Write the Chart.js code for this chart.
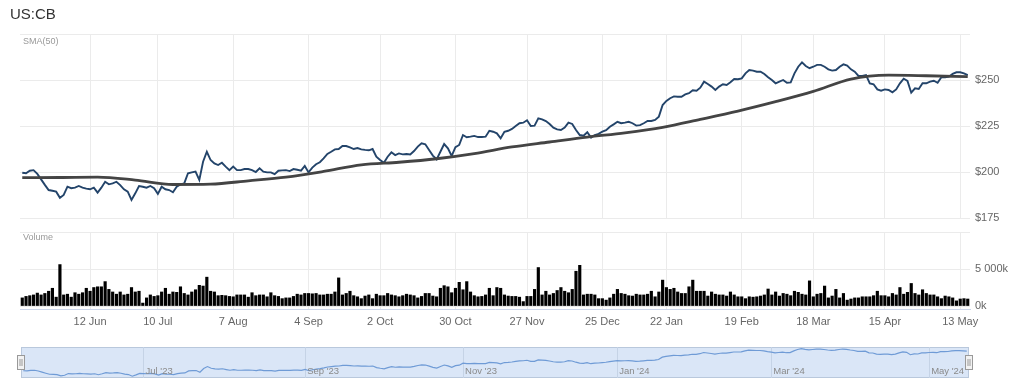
<!DOCTYPE html>
<html>
<head>
<meta charset="utf-8">
<script src="https://cdn.jsdelivr.net/npm/chart.js@4"></script>
<style>
  html, body { margin: 0; padding: 0; background: #fff; }
  #wrap { position: relative; width: 1024px; height: 385px; overflow: hidden; font-family: "Liberation Sans", Arial, sans-serif; }
  #wrap canvas { position: absolute; left: 0; top: 0; }
  #title { position: absolute; left: 10px; top: 5px; font-size: 15px; color: #333; }
  .pane { position: absolute; left: 23px; font-size: 9px; color: #999; }
</style>
</head>
<body>
<div id="wrap">
  <canvas id="price" width="1024" height="385"></canvas>
  <canvas id="volume" width="1024" height="385"></canvas>
  <canvas id="nav" width="1024" height="385"></canvas>
  <div id="title">US:CB</div>
  <div class="pane" style="top:36px">SMA(50)</div>
  <div class="pane" style="top:232px">Volume</div>
</div>
<script>
// ─── Data (one value per trading day, 16 May 2023 → 15 May 2024) ─────────────

const closes = [
  199.6, 199.3, 200.7, 201, 199, 196, 193, 190.2, 189.8, 189.3,
  186, 187.5, 192, 191.2, 191.5, 192.4, 191.5, 191, 190.6, 191.5,
  188.8, 191.5, 194.7, 193.3, 193.8, 194.7, 192.9, 190.6, 189.3, 184.8,
  188.4, 192.4, 192, 191.5, 192.4, 191.2, 188.1, 192, 190.6, 190.2,
  189, 192, 193.3, 193.8, 199.3, 199.8, 200.2, 195.7, 205.6, 211,
  206.5, 204.7, 203.8, 205, 202.9, 201, 202.9, 201, 201, 201.6,
  201.6, 201, 200, 202, 200.2, 199.8, 199.8, 198.8, 200.7, 200.9,
  201, 200.5, 201.6, 201.2, 200.7, 203.3, 199.8, 202.4, 204.2, 205.3,
  207.4, 209.8, 211, 212.3, 212.5, 214.1, 214.1, 213.4, 212.5, 213,
  212.3, 212, 211.8, 212.5, 208.3, 206.5, 205, 208.3, 210.7, 209.2,
  210.1, 209.6, 209.8, 209.5, 211.4, 213.8, 215.6, 215.1, 212, 208.9,
  206.9, 211, 215.2, 212.9, 208.7, 213.5, 214.7, 220.1, 218.9, 219.2,
  219.6, 219, 219, 219.2, 222.4, 221.9, 221, 218.3, 221.9, 222.4,
  223.4, 225, 226.5, 226.8, 228.1, 225, 225.2, 229.2, 228.6, 227.7,
  226.1, 224.1, 223.2, 222.8, 224.1, 226.8, 226.1, 222.8, 220.1, 219.7,
  221.6, 218.7, 220.1, 220.7, 221.9, 222.7, 224.6, 225.9, 227.3, 226.5,
  226.8, 227.3, 226.5, 225.2, 225.5, 226.5, 227.7, 227.7, 228.3, 230.1,
  236.4, 238.6, 240.1, 241.1, 240.9, 240.9, 242.2, 242.8, 244.4, 244.2,
  245.8, 249.1, 247.8, 246.4, 244.6, 246.4, 247.7, 247.3, 248.8, 250.5,
  250.4, 250.9, 253.6, 255.4, 255.1, 254.5, 254.5, 253.3, 251.5, 250,
  248.2, 249.1, 250, 248.5, 248.7, 253.6, 257.2, 259.6, 257.6, 256.4,
  257.2, 258.2, 258.2, 257.2, 255.8, 255.1, 255.4, 257.2, 258.5, 257.8,
  255.8, 254.5, 252.2, 252.2, 252.7, 248.2, 247.7, 244.9, 244.2, 244.9,
  244.6, 243.3, 244.9, 248.2, 250.7, 249.5, 243.1, 245.5, 245.1, 248.2,
  248.2, 249.1, 249.6, 248.5, 251.5, 251.5, 251.8, 253.3, 254.2, 254.2,
  253.6, 252.6
];

// volume in millions of shares
const volumes = [
  1.1, 1.3, 1.4, 1.5, 1.75, 1.5, 1.7, 2.0, 2.4, 1.2,
  5.6, 1.5, 1.6, 1.2, 1.8, 1.6, 1.8, 2.4, 2.0, 2.5,
  2.6, 2.6, 3.3, 2.25, 1.9, 1.6, 1.9, 1.5, 1.6, 2.5,
  1.9, 2.0, 0.4, 1.1, 1.5, 1.3, 1.4, 1.9, 2.4, 1.6,
  1.9, 1.85, 2.6, 1.7, 1.5, 1.9, 2.2, 2.8, 2.7, 3.9,
  2.0, 1.9, 1.4, 1.45, 1.4, 1.3, 1.25, 1.5, 1.5, 1.5,
  1.2, 1.8, 1.4, 1.5, 1.5, 1.25, 1.8, 1.4, 1.3, 1.0,
  1.1, 1.1, 1.3, 1.6, 1.5, 1.7, 1.7, 1.65, 1.7, 1.5,
  1.5, 1.6, 1.6, 1.9, 3.8, 1.5, 1.7, 2.0, 1.4, 1.25,
  1.0, 1.35, 1.5, 1.0, 1.6, 1.4, 1.4, 1.7, 1.5, 1.4,
  1.25, 1.4, 1.6, 1.5, 1.4, 1.1, 1.3, 1.7, 1.7, 1.35,
  1.25, 2.4, 2.75, 2.6, 1.8, 2.4, 3.2, 2.2, 3.3, 1.9,
  1.4, 1.25, 1.3, 1.5, 2.4, 1.4, 2.5, 2.4, 1.5, 1.35,
  1.3, 1.3, 1.2, 0.6, 1.3, 1.3, 2.25, 5.2, 1.5, 2.0,
  1.5, 1.7, 2.1, 2.5, 2.0, 1.8, 2.25, 4.7, 5.5, 1.5,
  1.6, 1.6, 1.5, 1.0, 1.0, 0.8, 1.1, 1.6, 2.25, 1.7,
  1.6, 1.4, 1.35, 1.6, 1.5, 1.5, 1.6, 2.0, 1.25, 1.9,
  3.5, 2.5, 2.25, 2.4, 1.9, 1.7, 1.7, 2.6, 3.5, 2.0,
  2.0, 2.0, 1.35, 1.9, 1.6, 1.5, 1.5, 1.35, 1.9, 1.5,
  1.25, 1.25, 1.0, 1.25, 1.2, 1.25, 1.35, 1.5, 2.3, 1.5,
  1.9, 1.35, 1.7, 1.6, 1.4, 2.0, 1.85, 1.6, 1.5, 3.4,
  1.25, 1.6, 1.7, 2.7, 1.1, 1.35, 2.25, 1.1, 1.7, 0.8,
  0.95, 1.1, 1.1, 1.25, 1.25, 1.25, 1.4, 2.0, 1.4, 1.4,
  1.25, 1.7, 1.5, 2.5, 1.6, 1.85, 3.05, 1.7, 1.5, 2.2,
  1.7, 1.5, 1.5, 1.25, 1.0, 1.35, 1.25, 1.1, 0.7, 0.95,
  1.0, 0.95
];

// SMA(50) at these trading-day indices
const smaDays = [0, 10, 20, 30, 40, 50, 60, 70, 80, 90, 100, 110, 120, 130, 140, 150, 160, 170, 180, 190, 200, 210, 220, 230, 240, 251];
const smaValues = [196.9, 197.0, 197.2, 195.6, 193.2, 193.4, 195.2, 197.2, 200.3, 203.9, 205.3, 207.2, 210.0, 213.6, 216.3, 219.0, 221.3, 224.3, 228.6, 233.1, 238.2, 243.8, 250.5, 252.6, 252.3, 251.8];

// axis ticks (trading-day index → label)
const dateTicks = [18, 36, 56, 76, 95, 115, 134, 154, 171, 191, 210, 229, 249];
const dateLabels = ["12 Jun", "10 Jul", "7 Aug", "4 Sep", "2 Oct", "30 Oct", "27 Nov", "25 Dec", "22 Jan", "19 Feb", "18 Mar", "15 Apr", "13 May"];
const navTicks = [32, 75, 117, 158, 199, 241];
const navLabels = ["Jul '23", "Sep '23", "Nov '23", "Jan '24", "Mar '24", "May '24"];
const priceTicks = [175, 200, 225, 250, 275];
const volumeTicks = [0, 5, 10];

// ─── Shared bits ──────────────────────────────────────────────────────────────

const X_MIN = -0.6;
const X_MAX = 251.6;
const GRID = "#ebebeb";
const FONT = "'Liberation Sans', Arial, sans-serif";

Chart.defaults.font.family = FONT;
Chart.defaults.color = "#666";

const pricePoints = closes.map((v, i) => ({ x: i, y: v }));
const smaPoints = smaDays.map((d, i) => ({ x: d, y: smaValues[i] }));
const volumePoints = volumes.map((v, i) => ({ x: i, y: v }));

const baseOpts = {
  responsive: false,
  animation: false,
  devicePixelRatio: 1,
  plugins: { legend: { display: false }, tooltip: { enabled: false } },
};

function fixedTicks(list) {
  return (scale) => { scale.ticks = list.map((v) => ({ value: v })); };
}

// ─── Price pane ───────────────────────────────────────────────────────────────

new Chart(document.getElementById("price"), {
  type: "line",
  data: {
    datasets: [
      {
        label: "SMA(50)",
        data: smaPoints,
        borderColor: "#444",
        borderWidth: 2.8,
        pointRadius: 0,
        cubicInterpolationMode: "monotone",
      },
      {
        label: "US:CB",
        data: pricePoints,
        borderColor: "#23446a",
        borderWidth: 1.9,
        pointRadius: 0,
        tension: 0,
      },
    ],
  },
  options: {
    ...baseOpts,
    layout: { padding: { left: 20, top: 34, right: 0, bottom: 385 - 218 } },
    scales: {
      x: {
        type: "linear", min: X_MIN, max: X_MAX,
        afterBuildTicks: fixedTicks(dateTicks),
        afterFit: (s) => { s.height = 0; },
        ticks: { display: false },
        grid: { color: GRID, drawTicks: false },
        border: { display: false },
      },
      y: {
        position: "right", min: 175, max: 275,
        afterBuildTicks: fixedTicks(priceTicks),
        afterFit: (s) => { s.width = 54; },
        ticks: { padding: 5, font: { size: 11 }, callback: (v) => (v === 275 ? "" : "$" + v) },
        grid: { color: GRID, drawTicks: false },
        border: { display: false },
      },
    },
  },
});

// ─── Volume pane ──────────────────────────────────────────────────────────────

new Chart(document.getElementById("volume"), {
  type: "bar",
  data: {
    datasets: [
      { label: "Volume", data: volumePoints, backgroundColor: "#000", barThickness: 2.5 },
    ],
  },
  options: {
    ...baseOpts,
    layout: { padding: { left: 20, top: 232, right: 0, bottom: 385 - 309 - 20 } },
    scales: {
      x: {
        type: "linear", min: X_MIN, max: X_MAX, offset: false,
        afterBuildTicks: fixedTicks(dateTicks),
        afterFit: (s) => { s.height = 20; },
        ticks: { padding: 6, font: { size: 11 }, maxRotation: 0, autoSkip: false,
                 callback: (v) => dateLabels[dateTicks.indexOf(v)] },
        grid: { color: GRID, drawTicks: false, offset: false },
        border: { color: "#ccd6eb" },
      },
      y: {
        position: "right", min: -0.4, max: 10,
        afterBuildTicks: fixedTicks(volumeTicks),
        afterFit: (s) => { s.width = 54; },
        ticks: { padding: 5, font: { size: 11 }, callback: (v) => (v === 0 ? "0k" : v === 5 ? "5 000k" : "") },
        grid: { color: GRID, drawTicks: false },
        border: { display: false },
      },
    },
  },
});

// ─── Navigator ────────────────────────────────────────────────────────────────

const navBox = {
  id: "navBox",
  beforeDraw(chart) {
    const { ctx, chartArea: a } = chart;
    ctx.save();
    ctx.fillStyle = "#dae6f7";
    ctx.fillRect(a.left, a.top, a.right - a.left, a.bottom - a.top);
    ctx.strokeStyle = "#b9c8dc";
    ctx.lineWidth = 1;
    ctx.strokeRect(a.left + 0.5, a.top + 0.5, a.right - a.left - 1, a.bottom - a.top - 1);
    ctx.restore();
  },
  afterDraw(chart) {
    const { ctx, chartArea: a } = chart;
    const xs = chart.scales.x;
    ctx.save();
    // month labels sit inside the box, just right of their grid line
    ctx.fillStyle = "#8a8a8a";
    ctx.font = "9.5px " + FONT;
    ctx.textBaseline = "alphabetic";
    ctx.textAlign = "left";
    navTicks.forEach((v, i) => {
      ctx.fillText(navLabels[i], xs.getPixelForValue(v) + 2, a.bottom - 4);
    });
    // drag handles at both ends
    const mid = (a.top + a.bottom) / 2;
    [a.left, a.right].forEach((x) => {
      ctx.fillStyle = "#f2f2f2";
      ctx.strokeStyle = "#999";
      ctx.lineWidth = 1;
      ctx.fillRect(x - 3.5, mid - 7, 7, 14);
      ctx.strokeRect(x - 3.5, mid - 7, 7, 14);
      ctx.beginPath();
      ctx.moveTo(x - 1, mid - 3.5); ctx.lineTo(x - 1, mid + 3.5);
      ctx.moveTo(x + 1, mid - 3.5); ctx.lineTo(x + 1, mid + 3.5);
      ctx.stroke();
    });
    ctx.restore();
  },
};

new Chart(document.getElementById("nav"), {
  type: "line",
  data: {
    datasets: [
      { data: pricePoints, borderColor: "#6f9bd6", borderWidth: 1.2, pointRadius: 0, tension: 0 },
    ],
  },
  options: {
    ...baseOpts,
    layout: { padding: { left: 21, top: 347, right: 55, bottom: 385 - 378 } },
    scales: {
      x: {
        type: "linear", min: X_MIN, max: X_MAX,
        afterBuildTicks: fixedTicks(navTicks),
        afterFit: (s) => { s.height = 0; },
        ticks: { display: false },
        grid: { color: "#c5d3e6", drawTicks: false },
        border: { display: false },
      },
      y: { display: false, min: 180, max: 264 },
    },
  },
  plugins: [navBox],
});
</script>
</body>
</html>
